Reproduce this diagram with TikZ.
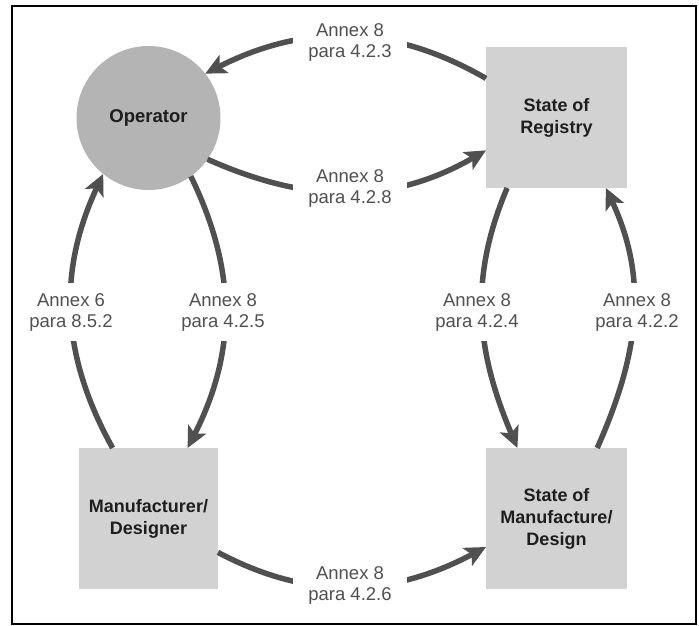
\documentclass[tikz,border=0pt]{standalone}
\usepackage{fontspec}
\setmainfont{Liberation Sans}
\usetikzlibrary{arrows.meta}
\definecolor{arrowgray}{HTML}{505050}
\definecolor{labelgray}{HTML}{505050}
\definecolor{boxgray}{HTML}{D2D2D2}
\definecolor{circgray}{HTML}{B4B4B4}
\definecolor{textdark}{HTML}{1E1E1E}
\begin{document}
\begin{tikzpicture}[x=1pt,y=1pt,
  conn/.style={draw=arrowgray, line width=5.5pt, -{Stealth[length=21pt,width=20pt,inset=5pt]}},
  lbl/.style={fill=white, text=labelgray, align=center, font=\fontsize{18.5}{21}\selectfont, inner xsep=15pt, inner ysep=10pt},
  boxnode/.style={fill=boxgray, minimum width=141pt, minimum height=141pt, outer sep=0pt, align=center, font=\fontsize{18}{22}\selectfont\bfseries, text=textdark},
  circnode/.style={circle, fill=circgray, minimum size=144pt, outer sep=0pt, align=center, font=\fontsize{18.5}{22}\selectfont\bfseries, text=textdark}
]
\useasboundingbox (0,0) rectangle (699,626);
\draw[line width=2pt] (12,2) rectangle (696,620);

\node[circnode] (op) at (148.5,508) {Operator};
\node[boxnode] (reg) at (556.5,508.5) {State of\\Registry};
\node[boxnode, minimum width=139pt] (man) at (148.5,107.5) {Manufacturer/\\Designer};
\node[boxnode] (smd) at (556.5,107.5) {State of\\Manufacture/\\Design};

\draw[conn] (reg.151) to[out=150,in=27] (op.38);
\draw[conn] (op.-35) to[out=-24,in=210] (reg.205);
\draw[conn] (man.117) to[out=119,in=245] (op.231);
\draw[conn] (op.-54) to[out=-64,in=63] (man.61);
\draw[conn] (reg.235) to[out=247,in=113] (smd.119);
\draw[conn] (smd.60) to[out=66,in=-65] (reg.-55);
\draw[conn] (man.-26) to[out=-28,in=208] (smd.202);

\node[lbl] (l423) at (350,584) {Annex 8\\para 4.2.3};
\node[lbl] (l428) at (350,438) {Annex 8\\para 4.2.8};
\node[lbl] (l852) at (71,314) {Annex 6\\para 8.5.2};
\node[lbl] (l425) at (223,314) {Annex 8\\para 4.2.5};
\node[lbl] (l424) at (477,314) {Annex 8\\para 4.2.4};
\node[lbl] (l422) at (637,314) {Annex 8\\para 4.2.2};
\node[lbl] (l426) at (350,41) {Annex 8\\para 4.2.6};
\end{tikzpicture}
\end{document}
